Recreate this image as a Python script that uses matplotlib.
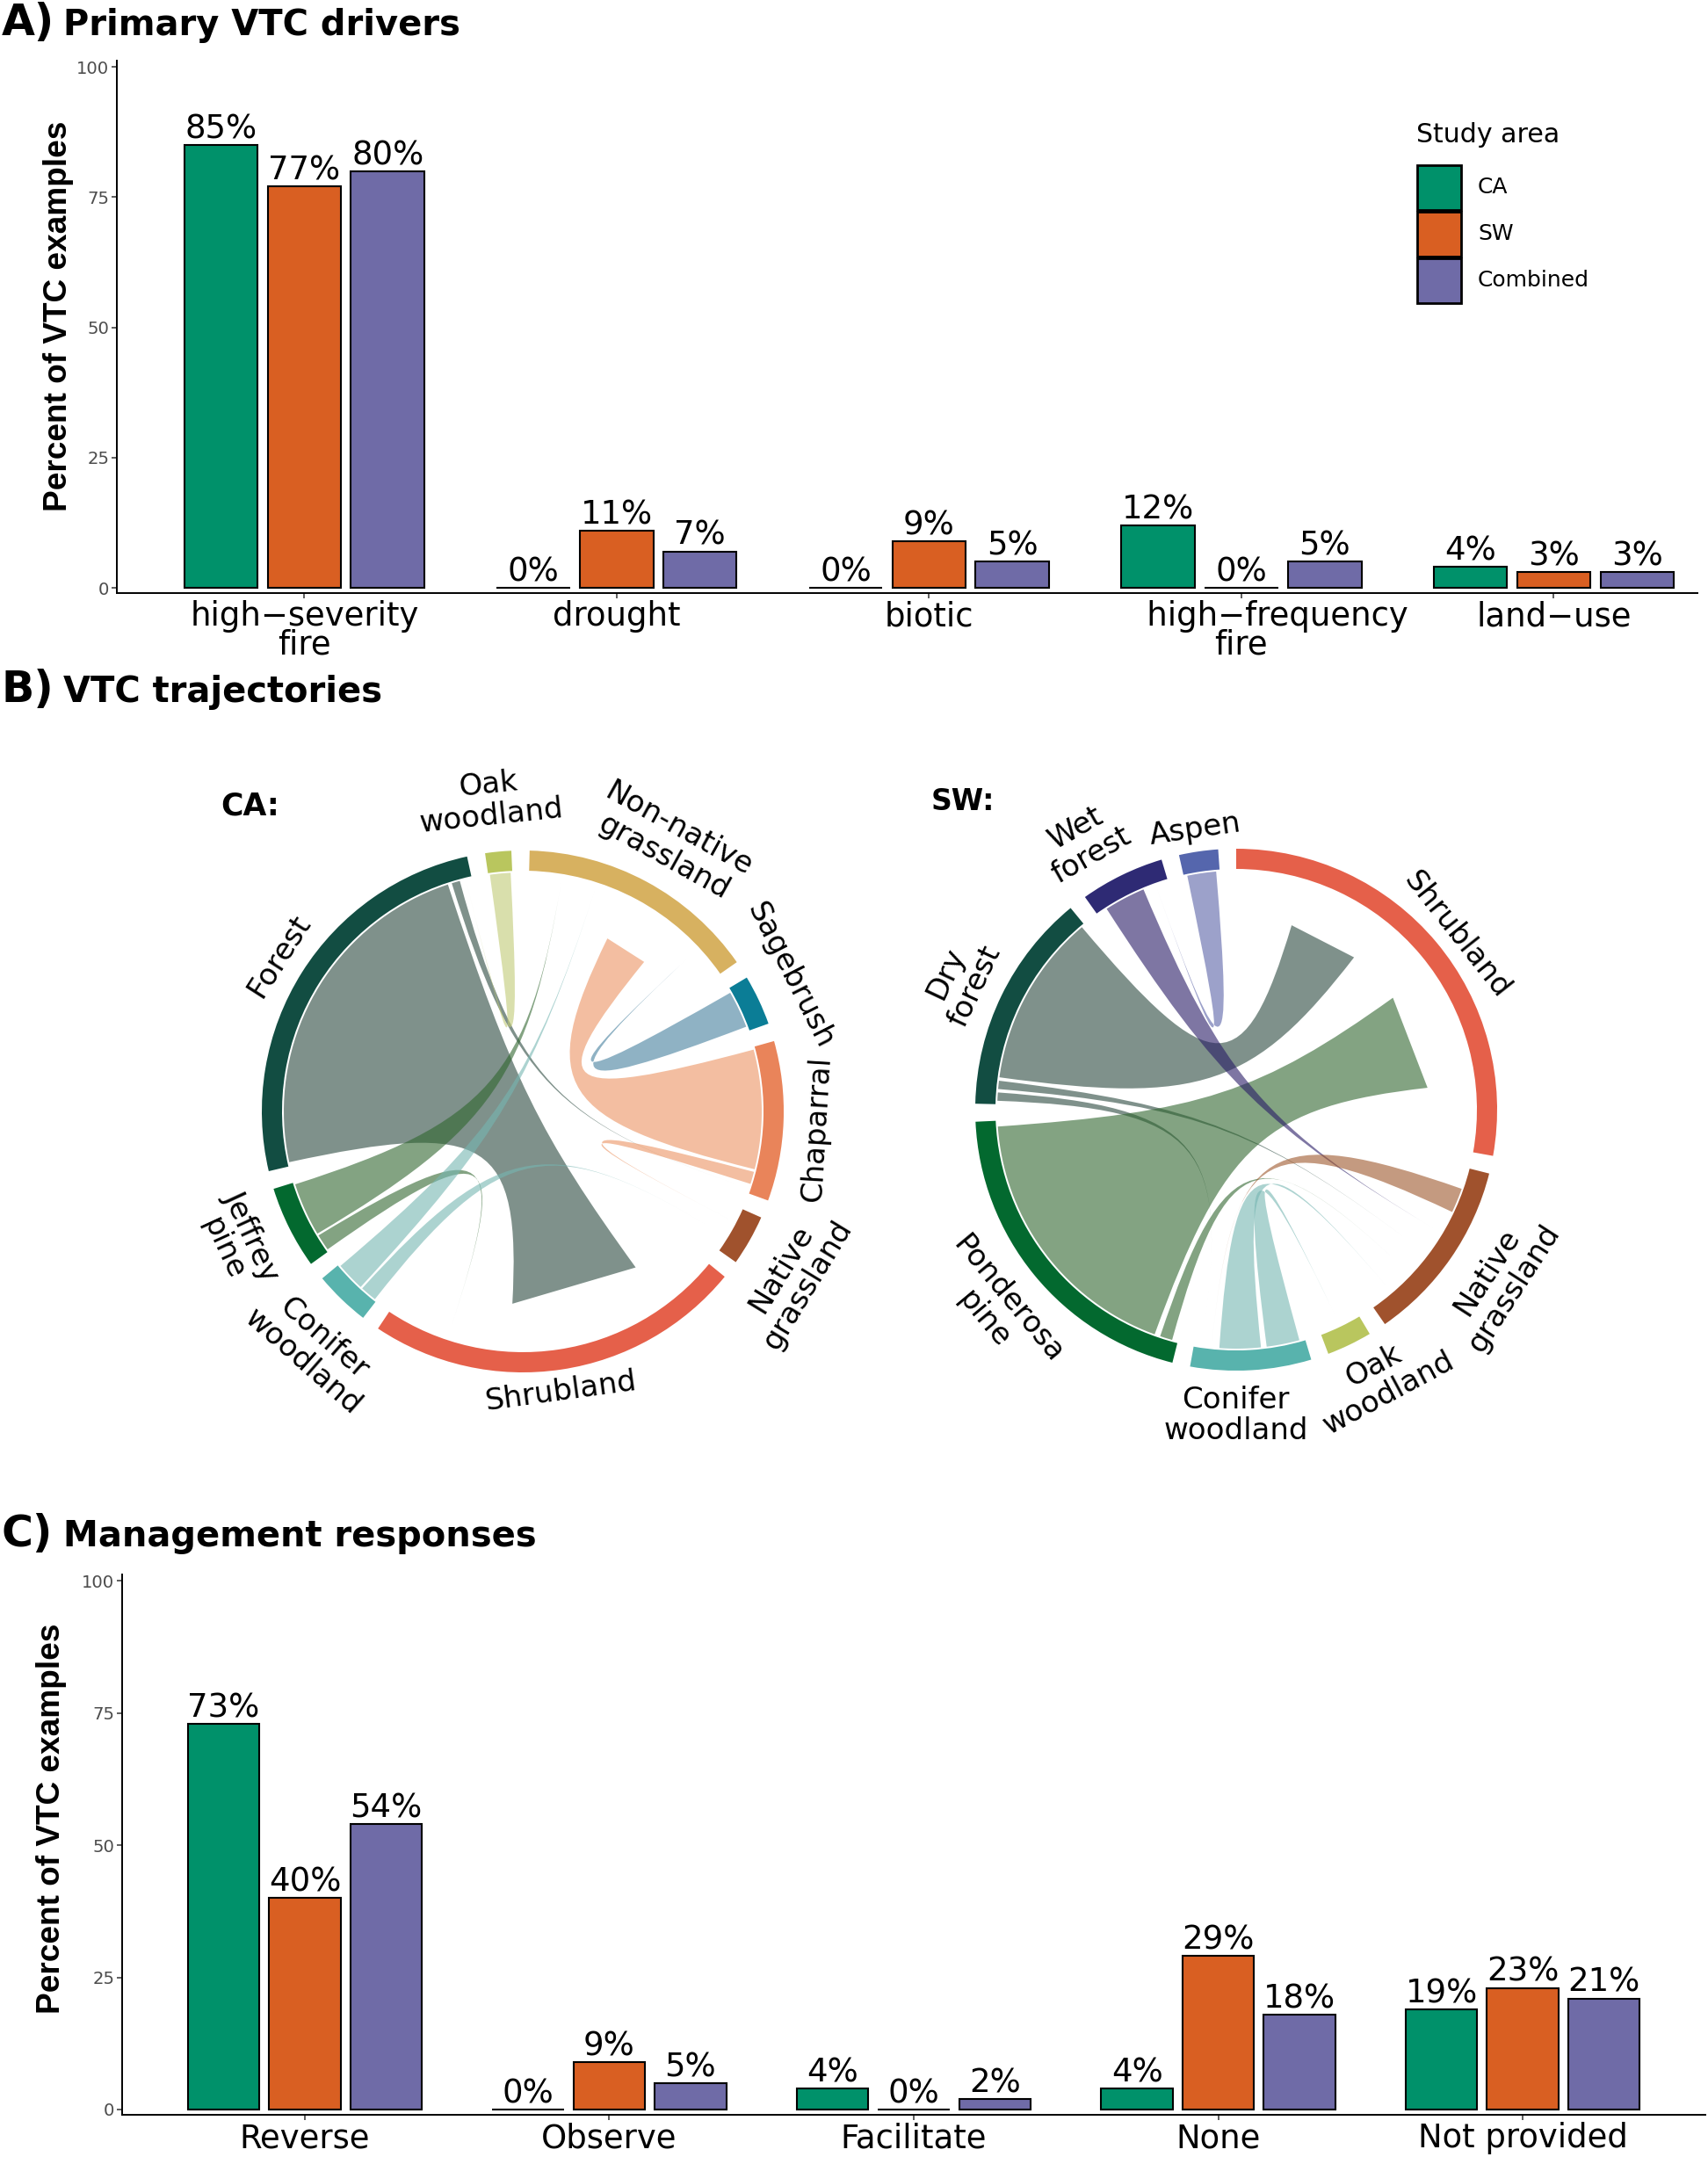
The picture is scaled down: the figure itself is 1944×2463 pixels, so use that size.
import numpy as np
import matplotlib
matplotlib.use("Agg")
import matplotlib.pyplot as plt
from matplotlib.patches import Wedge, Rectangle, PathPatch
from matplotlib.path import Path
from matplotlib.colors import to_rgb

plt.rcParams['font.family'] = ['DejaVu Sans']

W, H = 1944, 2463
DPI = 100
PX = 72 / DPI   # points per pixel

# ---- data: bar panels ----
series = ["CA", "SW", "Combined"]
series_colors = ["#00916A", "#D95F22", "#6F6BA7"]

drivers = ["high\u2212severity\nfire", "drought", "biotic",
           "       high\u2212frequency\nfire", "land\u2212use"]
drivers_ca = [85, 0, 0, 12, 4]
drivers_sw = [77, 11, 9, 0, 3]
drivers_comb = [80, 7, 5, 5, 3]

responses = ["Reverse", "Observe", "Facilitate", "None", "Not provided"]
resp_ca = [73, 0, 4, 4, 19]
resp_sw = [40, 9, 0, 29, 23]
resp_comb = [54, 5, 2, 18, 21]

# ---- data: chord diagrams (sector sizes in degrees, links as from/to/width at source/width at target) ----
ca_sectors = ["Shrubland", "Native grassland", "Chaparral", "Sagebrush", "Non-native grassland",
              "Oak woodland", "Forest", "Jeffrey pine", "Conifer woodland"]
ca_labels = ["Shrubland", "Native\ngrassland", "Chaparral", "Sagebrush", "Non-native\ngrassland",
             "Oak\nwoodland", "Forest", "Jeffrey\npine", "Conifer\nwoodland"]
ca_sizes = [84.4, 11.3, 35.6, 11.2, 53.6, 5.8, 90.9, 18.5, 12.5]
ca_links = [
    ("Forest", "Shrubland", 84, 39),
    ("Forest", "Chaparral", 2, 0),
    ("Oak woodland", "Forest", 5, 0),
    ("Jeffrey pine", "Non-native grassland", 13, 0),
    ("Jeffrey pine", "Shrubland", 4, 0),
    ("Conifer woodland", "Non-native grassland", 7, 0),
    ("Conifer woodland", "Native grassland", 4, 0),
    ("Chaparral", "Non-native grassland", 29, 13),
    ("Chaparral", "Native grassland", 3, 0),
    ("Sagebrush", "Non-native grassland", 9, 0),
]
# label placement (radius in px, angular shift from sector middle)
ca_label_r = [322, 362, 335, 341, 349, 356, 329, 357, 362]
ca_label_shift = [-0.7, -1.7, -1.3, 1.6, -0.7, 0.6, -0.4, -1.8, 2.7]

sw_sectors = ["Shrubland", "Aspen", "Wet forest", "Dry forest", "Ponderosa pine",
              "Conifer woodland", "Oak woodland", "Native grassland"]
sw_labels = ["Shrubland", "Aspen", "Wet\nforest", "Dry\nforest", "Ponderosa\npine",
             "Conifer\nwoodland", "Oak\nwoodland", "Native\ngrassland"]
sw_sizes = [100.2, 8.7, 18.8, 49.3, 73.2, 26.9, 10.1, 41.1]
sw_links = [
    ("Dry forest", "Shrubland", 42, 21),
    ("Dry forest", "Native grassland", 2, 0),
    ("Dry forest", "Conifer woodland", 2, 0),
    ("Ponderosa pine", "Shrubland", 66, 29),
    ("Ponderosa pine", "Native grassland", 3, 0),
    ("Wet forest", "Native grassland", 10, 0),
    ("Aspen", "Wet forest", 7, 0),
    ("Native grassland", "Conifer woodland", 6, 0),
    ("Conifer woodland", "Oak woodland", 8, 0),
    ("Conifer woodland", "Native grassland", 10, 0),
]
sw_label_r = [320, 322, 351, 347, 355, 348, 349, 358]
sw_label_shift = [-1.5, 0, 3.6, 0.8, 0.5, -3.3, 2.5, 1.9]

sector_colors = {
    "Forest": "#124D42", "Dry forest": "#124D42",
    "Jeffrey pine": "#03692F", "Ponderosa pine": "#03692F",
    "Conifer woodland": "#58B3AD", "Shrubland": "#E5604A",
    "Native grassland": "#A0522D", "Chaparral": "#E9845A",
    "Sagebrush": "#0B7D96", "Non-native grassland": "#D7B160",
    "Oak woodland": "#B9C65E", "Wet forest": "#2E2A74", "Aspen": "#5566AD",
}
link_colors = {
    "Forest": "#7F918B", "Dry forest": "#7F918B",
    "Jeffrey pine": "#83A382", "Ponderosa pine": "#83A382",
    "Oak woodland": "#DADFAC", "Conifer woodland": "#ADD3D1",
    "Chaparral": "#F3BFA1", "Sagebrush": "#8FB2C4",
    "Wet forest": "#7E76A3", "Aspen": "#9CA1CA", "Native grassland": "#C59A80",
}

fig = plt.figure(figsize=(W / DPI, H / DPI), dpi=DPI)

# pixel overlay for titles, chords, legend
ax0 = fig.add_axes([0, 0, 1, 1])
ax0.set_xlim(0, W)
ax0.set_ylim(0, H)
ax0.axis("off")


def txt(x, y_px, s, **kw):
    return ax0.text(x, H - y_px, s, **kw)


def fig_box(left, top, right, bottom):
    return [left / W, 1 - bottom / H, (right - left) / W, (bottom - top) / H]


def bar_panel(box, cats, values, xmax):
    ax = fig.add_axes(box)
    ax.patch.set_visible(False)
    x = np.arange(1, len(cats) + 1)
    for i, (vals, col) in enumerate(zip(values, series_colors)):
        xs = x + (i - 1) * 0.2667
        ax.bar(xs, vals, width=0.235, color=col, edgecolor="black", linewidth=1.5, zorder=2)
        for xi, v in zip(xs, vals):
            ax.annotate(f"{v}%", (xi, v), xytext=(0, 5.5), textcoords="offset points",
                        ha="center", va="baseline", fontsize=37 * PX)
    ax.set_xlim(0.4, xmax)
    ax.set_ylim(-1, 101.2)
    ax.set_xticks(x)
    ax.set_xticklabels(cats, linespacing=0.85)
    ax.set_yticks([0, 25, 50, 75, 100])
    ax.tick_params(axis="y", labelsize=19.6 * PX, labelcolor="#4D4D4D", length=4.3,
                   width=1.1, color="#333333", pad=2)
    ax.tick_params(axis="x", labelsize=37 * PX, labelcolor="black", length=4.3,
                   width=1.1, color="#333333", pad=1.5)
    for s in ["top", "right"]:
        ax.spines[s].set_visible(False)
    for s in ["left", "bottom"]:
        ax.spines[s].set_linewidth(1.4)
    return ax


def light_to_rgba(hexcol, a=0.6):
    rgb = to_rgb(hexcol)
    return tuple(min(1, max(0, (c - (1 - a)) / a)) for c in rgb) + (a,)


def chord(cx, cy_px, sectors, labels, sizes, links, start_deg, lab_r, lab_shift,
          r_out=297, r_in=274):
    cy = H - cy_px
    n = len(sectors)
    gap = (360 - sum(sizes)) / n
    spans = {}
    a = start_deg
    for name, size in zip(sectors, sizes):
        spans[name] = (a, a + size)
        a += size + gap
    mids = {k: (v[0] + v[1]) / 2 for k, v in spans.items()}

    # place link ends inside each sector: incoming ends first, then outgoing
    ends = {name: [] for name in sectors}
    for i, (src, dst, ws, wd) in enumerate(links):
        ends[src].append((i, 0, ws, dst))
        ends[dst].append((i, 1, wd, src))
    pos = {}
    tip = 1.0
    for name in sectors:
        s0, s1 = spans[name]
        lst = sorted(ends[name], key=lambda e: (-e[1], (mids[name] - mids[e[3]]) % 360))
        slots = [max(e[2], tip) for e in lst]
        free = (s1 - s0) - sum(slots)
        g = free / (len(lst) + 1) if free > 0 else 0
        ang = s0 + g
        for e, sl in zip(lst, slots):
            c = ang + sl / 2
            pos[(e[0], e[1])] = (c - e[2] / 2, c + e[2] / 2)
            ang += sl + g

    def pt(theta, r):
        t = np.radians(theta)
        return (cx + r * np.cos(t), cy + r * np.sin(t))

    def ctrl(p, s=0.15):
        return (cx + s * (p[0] - cx), cy + s * (p[1] - cy))

    r_s = r_in - 2
    for i, (src, dst, ws, wd) in enumerate(links):
        a1, a2 = pos[(i, 0)]
        b1, b2 = pos[(i, 1)]
        r_t = r_in * 0.8 if wd > 0 else r_in - 8
        verts, codes = [], []
        for k, th in enumerate(np.linspace(a1, a2, 40)):
            verts.append(pt(th, r_s))
            codes.append(Path.MOVETO if k == 0 else Path.LINETO)
        pa2, pb1 = pt(a2, r_s), pt(b1, r_t)
        verts += [ctrl(pa2), ctrl(pb1), pb1]
        codes += [Path.CURVE4] * 3
        pb2, pa1 = pt(b2, r_t), pt(a1, r_s)
        verts.append(pb2)
        codes.append(Path.LINETO)
        verts += [ctrl(pb2), ctrl(pa1), pa1]
        codes += [Path.CURVE4] * 3
        verts.append(pa1)
        codes.append(Path.CLOSEPOLY)
        ax0.add_patch(PathPatch(Path(verts, codes), facecolor=light_to_rgba(link_colors[src]),
                                edgecolor="none", zorder=2))

    fs = 34
    for name, lab, lr, sh in zip(sectors, labels, lab_r, lab_shift):
        s0, s1 = spans[name]
        ax0.add_patch(Wedge((cx, cy), r_out, s0, s1, width=r_out - r_in,
                            facecolor=sector_colors[name], edgecolor="none", zorder=3))
        m = mids[name] + sh
        lx, ly = pt(m, lr)
        rot = (m % 180) - 90
        ax0.text(lx, ly, lab, rotation=rot, rotation_mode="anchor", ha="center", va="center",
                 multialignment="center", linespacing=1.1, fontsize=fs * PX, zorder=4)


# ---- titles ----
for y, letter, title in [(40, "A)", "Primary VTC drivers"), (799, "B)", "VTC trajectories"),
                         (1760, "C)", "Management responses")]:
    txt(2, y, letter, fontsize=49 * PX, fontweight="bold", va="baseline", ha="left")
    txt(72, y, title, fontsize=40 * PX, fontweight="bold", va="baseline", ha="left")

# ---- panel A ----
axA = bar_panel(fig_box(133, 69, 1932, 675), drivers, [drivers_ca, drivers_sw, drivers_comb], 5.46)
txt(66, 360, "Percent of VTC examples", rotation=90, ha="center", va="center",
    fontsize=37 * PX, fontweight="bold", family=["Liberation Sans", "DejaVu Sans"])

# legend
txt(1612, 154, "Study area", fontsize=30 * PX, ha="left", va="center")
for i, (name, col) in enumerate(zip(series, series_colors)):
    top = 187 + 53 * i
    ax0.add_patch(Rectangle((1613, H - top - 52), 50, 51, facecolor=col, edgecolor="black",
                            linewidth=2, zorder=3))
    txt(1682, top + 26, name, fontsize=25 * PX, ha="left", va="center")

# ---- panel B ----
chord(595, 1265, ca_sectors, ca_labels, ca_sizes, ca_links, 236.3, ca_label_r, ca_label_shift)
chord(1407, 1263, sw_sectors, sw_labels, sw_sizes, sw_links, 349.8, sw_label_r, sw_label_shift)
txt(251, 917, "CA:", fontsize=34.6 * PX, fontweight="bold", ha="left", va="center")
txt(1060, 912, "SW:", fontsize=33 * PX, fontweight="bold", ha="left", va="center")

# ---- panel C ----
axC = bar_panel(fig_box(139, 1792, 1941, 2407), responses, [resp_ca, resp_sw, resp_comb], 5.6)
txt(58, 2070, "Percent of VTC examples", rotation=90, ha="center", va="center",
    fontsize=37 * PX, fontweight="bold", family=["Liberation Sans", "DejaVu Sans"])

fig.savefig("out.png", dpi=DPI)
